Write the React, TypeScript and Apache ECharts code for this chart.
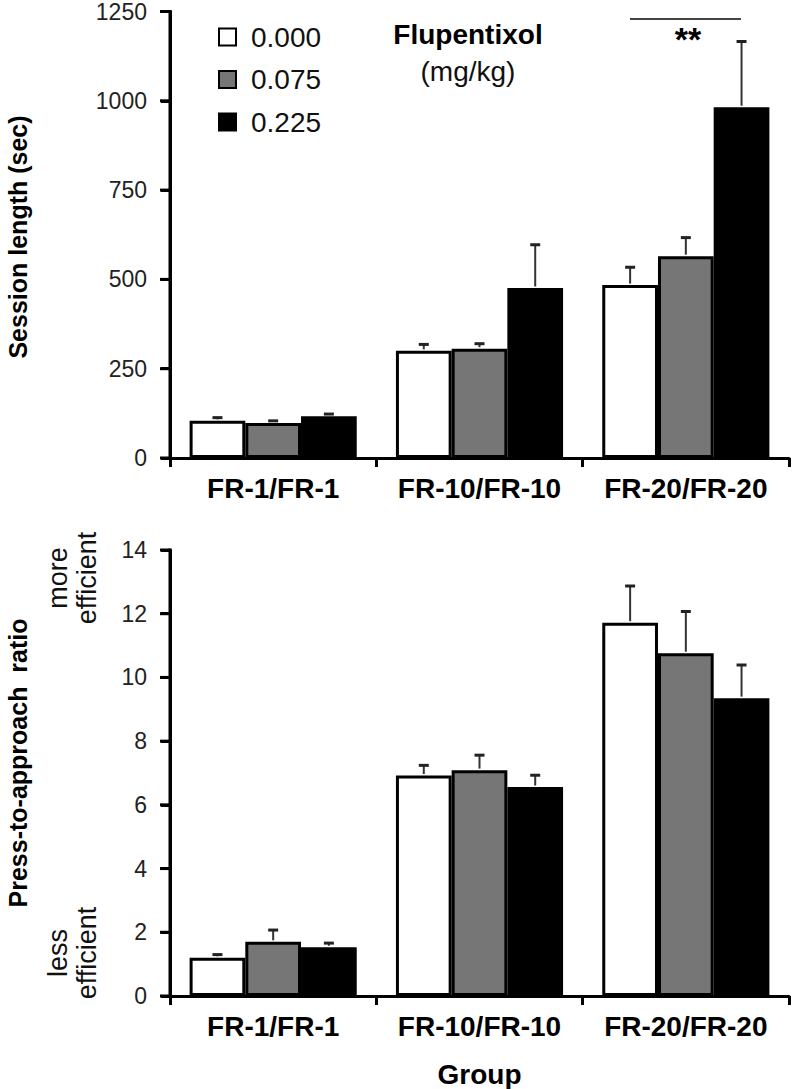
import React, { useEffect, useRef } from "react";
import * as echarts from "echarts";

const FONT = "'Liberation Sans', Arial, Helvetica, sans-serif";

const categories = ["FR-1/FR-1", "FR-10/FR-10", "FR-20/FR-20"];
const doses = ["0.000", "0.075", "0.225"];
const doseColors = ["#ffffff", "#767676", "#000000"];

// Session length (sec): means and SEM
const sessionLen000 = [104, 300, 484];
const sessionLen075 = [98, 306, 565];
const sessionLen225 = [117, 476, 982];
const sessionErr000 = [9, 18, 50];
const sessionErr075 = [6, 14, 52];
const sessionErr225 = [6, 121, 184];

// Press-to-approach ratio: means and SEM
const ratio000 = [1.2, 6.92, 11.72];
const ratio075 = [1.7, 7.09, 10.76];
const ratio225 = [1.53, 6.56, 9.35];
const ratioErr000 = [0.1, 0.32, 1.15];
const ratioErr075 = [0.37, 0.47, 1.31];
const ratioErr225 = [0.13, 0.37, 1.04];

// Axis ticks
const sessionTickValues = [0, 250, 500, 750, 1000, 1250];
const ratioTickValues = [0, 2, 4, 6, 8, 10, 12, 14];

const BAR_CAT_GAP = 0.19;

export default function App() {
  const ref = useRef<HTMLDivElement>(null);

  useEffect(() => {
    document.body.style.margin = "0";
    const chart = echarts.init(ref.current!, undefined, { renderer: "svg" });

    const sessionMeans = [sessionLen000, sessionLen075, sessionLen225];
    const sessionErrs = [sessionErr000, sessionErr075, sessionErr225];
    const ratioMeans = [ratio000, ratio075, ratio225];
    const ratioErrs = [ratioErr000, ratioErr075, ratioErr225];

    const barSeries = (gridIdx: number, means: number[][]) =>
      doses.map((d, k) => ({
        type: "bar",
        name: d,
        xAxisIndex: gridIdx,
        yAxisIndex: gridIdx,
        data: means[k],
        barGap: "0%",
        barCategoryGap: BAR_CAT_GAP * 100 + "%",
        itemStyle: { color: doseColors[k], borderColor: "#000", borderWidth: 3 },
      }));

    const errSeries = (gridIdx: number, means: number[][], errs: number[][]) =>
      doses.map((d, k) => ({
        type: "custom",
        name: "err " + d,
        xAxisIndex: gridIdx,
        yAxisIndex: gridIdx,
        encode: { x: 0, y: 1 },
        data: means[k].map((m, i) => [i, m, errs[k][i]]),
        renderItem: (params: any, api: any) => {
          const cat = api.value(0);
          const mean = api.value(1);
          const err = api.value(2);
          const band = api.size([1, 0])[0];
          const bw = (band * (1 - BAR_CAT_GAP)) / 3;
          const base = api.coord([cat, mean]);
          const top = api.coord([cat, mean + err]);
          const cx = base[0] + (k - 1) * bw;
          return {
            type: "group",
            children: [
              {
                type: "line",
                shape: { x1: cx, y1: base[1] - 1.5, x2: cx, y2: top[1] },
                style: { stroke: "#333", lineWidth: 2 },
              },
              {
                type: "line",
                shape: { x1: cx - 5, y1: top[1], x2: cx + 5, y2: top[1] },
                style: { stroke: "#222", lineWidth: 3 },
              },
            ],
          };
        },
      }));

    const xAxisBase = (gridIndex: number) => ({
      type: "category",
      gridIndex,
      data: categories,
      axisLine: { show: true, lineStyle: { color: "#000", width: 3 } },
      axisTick: { show: true, length: 9, lineStyle: { color: "#000", width: 3 } },
      axisLabel: {
        interval: 0,
        fontSize: 28,
        fontWeight: "bold",
        color: "#000",
        margin: 16,
        fontFamily: FONT,
      },
    });

    const yAxisBase = (gridIndex: number, ticks: number[]) => ({
      type: "value",
      gridIndex,
      min: ticks[0],
      max: ticks[ticks.length - 1],
      interval: ticks[1] - ticks[0],
      axisLine: { show: true, lineStyle: { color: "#000", width: 3 } },
      axisTick: { show: true, length: 9, lineStyle: { color: "#000", width: 3 } },
      axisLabel: {
        fontSize: 23,
        color: "#222",
        margin: 23,
        fontFamily: FONT,
        formatter: (v: number) => String(v),
      },
      splitLine: { show: false },
    });

    const rotatedText = (text: string, x: number, y: number, font: string, fill: string) => ({
      type: "text",
      x,
      y,
      rotation: Math.PI / 2,
      style: {
        text,
        fill,
        font,
        lineHeight: 29,
        align: "center",
        verticalAlign: "middle",
      },
    });

    const centeredText = (text: string, x: number, y: number, font: string, fill: string) => ({
      type: "text",
      x,
      y,
      style: { text, fill, font, align: "center", verticalAlign: "middle" },
    });

    const baseGraphic: any[] = [
      rotatedText("Session length (sec)", 18, 237, `bold 25px ${FONT}`, "#000"),
      rotatedText("Press-to-approach  ratio", 18, 763, `bold 25px ${FONT}`, "#000"),
      centeredText("Flupentixol", 468, 34, `bold 28px ${FONT}`, "#000"),
      centeredText("(mg/kg)", 468, 71, `28px ${FONT}`, "#111"),
      {
        type: "line",
        shape: { x1: 630, y1: 19, x2: 741, y2: 19 },
        style: { stroke: "#444", lineWidth: 2 },
      },
      centeredText("**", 688, 39, `bold 34px ${FONT}`, "#000"),
      rotatedText("more\nefficient", 72, 578, `27px ${FONT}`, "#111"),
      rotatedText("less\nefficient", 72, 953, `27px ${FONT}`, "#111"),
    ];

    const option: any = {
      animation: false,
      legend: {
        data: doses,
        orient: "vertical",
        left: 213,
        top: 18,
        icon: "rect",
        itemWidth: 17,
        itemHeight: 17,
        itemGap: 14.5,
        selectedMode: false,
        textStyle: {
          fontSize: 28,
          color: "#111",
          lineHeight: 28,
          padding: [0, 0, 0, 10],
          fontFamily: FONT,
        },
      },
      grid: [
        { left: 170, right: 7, top: 11, height: 447 },
        { left: 170, right: 7, top: 550, height: 447 },
      ],
      xAxis: [
        xAxisBase(0),
        {
          ...xAxisBase(1),
          name: "Group",
          nameLocation: "middle",
          nameGap: 64,
          nameTextStyle: { fontSize: 28, fontWeight: "bold", color: "#000", fontFamily: FONT },
        },
      ],
      yAxis: [yAxisBase(0, sessionTickValues), yAxisBase(1, ratioTickValues)],
      series: [
        ...barSeries(0, sessionMeans),
        ...barSeries(1, ratioMeans),
        ...errSeries(0, sessionMeans, sessionErrs),
        ...errSeries(1, ratioMeans, ratioErrs),
      ],
      graphic: baseGraphic,
    };

    chart.setOption(option);

    // Left value-axis line and outward ticks, positioned with the chart's own scales
    const axisGraphic: any[] = [];
    [sessionTickValues, ratioTickValues].forEach((ticks, g) => {
      const finder = { seriesIndex: g * 3 };
      const toPx = (c: number, v: number): number[] | null => {
        const r = chart.convertToPixel(finder as any, [c, v]) as any;
        return Array.isArray(r) ? r : null;
      };
      const c0 = toPx(0, ticks[0]);
      const c1 = toPx(1, ticks[0]);
      const cTop = toPx(0, ticks[ticks.length - 1]);
      let xL = 170;
      let y0 = g === 0 ? 458 : 997;
      let yT = g === 0 ? 11 : 550;
      if (c0 && c1 && cTop && isFinite(c0[0]) && isFinite(c1[0])) {
        xL = c0[0] - (c1[0] - c0[0]) / 2;
        y0 = c0[1];
        yT = cTop[1];
      }
      axisGraphic.push({
        type: "rect",
        z: 100,
        silent: true,
        shape: { x: xL - 1.5, y: yT - 1.5, width: 3, height: y0 - yT + 3 },
        style: { fill: "#000" },
      });
      ticks.forEach((v) => {
        const p = toPx(0, v);
        const y = p && isFinite(p[1]) ? p[1] : y0 - ((v - ticks[0]) / (ticks[ticks.length - 1] - ticks[0])) * (y0 - yT);
        axisGraphic.push({
          type: "rect",
          z: 100,
          silent: true,
          shape: { x: xL - 10, y: y - 1.5, width: 10, height: 3 },
          style: { fill: "#000" },
        });
      });
    });
    chart.setOption({ graphic: [...baseGraphic, ...axisGraphic] });

    return () => chart.dispose();
  }, []);

  return <div ref={ref} style={{ width: 796, height: 1089 }} />;
}
